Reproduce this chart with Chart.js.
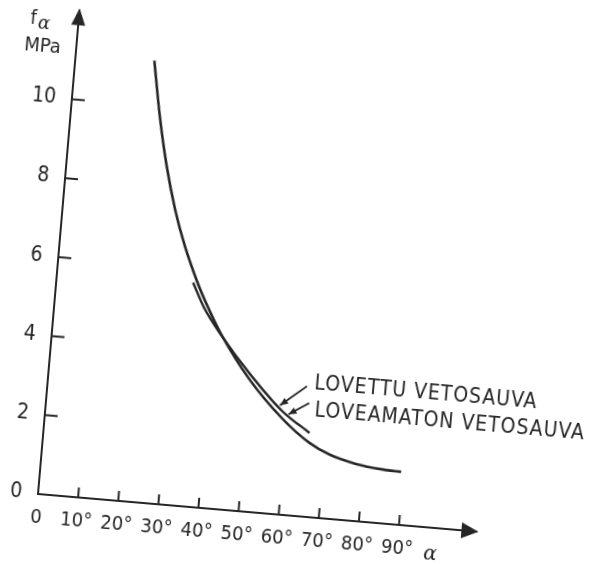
<!DOCTYPE html>
<html>
<head>
<meta charset="utf-8">
<script src="https://cdn.jsdelivr.net/npm/chart.js@4.4.0/dist/chart.umd.min.js"></script>
<style>
  html, body { margin: 0; padding: 0; background: #fff; overflow: hidden; width: 590px; height: 564px; }
  #wrap { position: absolute; left: -40px; top: -20px; width: 680px; height: 600px;
          transform: rotate(4.9deg); transform-origin: 78px 514px; }
</style>
</head>
<body>
<div id="wrap"><canvas id="myChart" width="680" height="600"></canvas></div>
<script>
// alpha in degrees, f_alpha in MPa
const mainAlpha = [19.6, 22.1, 24.9, 27.9, 31.1, 35.2, 37.9, 41.9, 49.8, 58.9, 66.1, 71.3, 78.1, 84.8, 89.4];
const mainF     = [11.15, 9.78, 8.52, 7.45, 6.55, 5.62, 5.10, 4.42, 3.35, 2.42, 1.87, 1.62, 1.44, 1.36, 1.34];
const notchAlpha = [33.9, 37.1, 41.9, 49.7, 58.7, 65.9];
const notchF     = [5.65, 5.05, 4.40, 3.50, 2.61, 2.12];

const xTickValues = [0, 10, 20, 30, 40, 50, 60, 70, 80, 90];
const xTickLabels = ['0', '10°', '20°', '30°', '40°', '50°', '60°', '70°', '80°', '90°'];
const yTickValues = [0, 2, 4, 6, 8, 10];
const yTickLabels = ['0', '2', '4', '6', '8', '10'];

const curveNames = ['LOVETTU VETOSAUVA', 'LOVEAMATON VETOSAUVA'];

const FONT = '"Liberation Sans Narrow", "DejaVu Sans Condensed", "DejaVu Sans", sans-serif';
const INK = '#262626';

function arrow(ctx, x1, y1, x2, y2, head, w) {
  const ang = Math.atan2(y2 - y1, x2 - x1);
  ctx.beginPath();
  ctx.moveTo(x1, y1);
  ctx.lineTo(x2, y2);
  ctx.lineWidth = 1.8;
  ctx.stroke();
  ctx.beginPath();
  ctx.moveTo(x2, y2);
  ctx.lineTo(x2 - head * Math.cos(ang) + w * Math.sin(ang), y2 - head * Math.sin(ang) - w * Math.cos(ang));
  ctx.lineTo(x2 - head * Math.cos(ang) - w * Math.sin(ang), y2 - head * Math.sin(ang) + w * Math.cos(ang));
  ctx.closePath();
  ctx.fill();
}

const decor = {
  id: 'decor',
  afterDraw(chart) {
    const { ctx, chartArea: a, scales: { x, y } } = chart;
    ctx.save();
    ctx.strokeStyle = INK;
    ctx.fillStyle = INK;
    ctx.lineWidth = 2;
    // inward tick marks
    xTickValues.slice(1).forEach(v => {
      const px = x.getPixelForValue(v);
      ctx.beginPath(); ctx.moveTo(px, a.bottom); ctx.lineTo(px, a.bottom - 10); ctx.stroke();
    });
    yTickValues.slice(1).forEach(v => {
      const py = y.getPixelForValue(v);
      ctx.beginPath(); ctx.moveTo(a.left, py); ctx.lineTo(a.left + 13, py); ctx.stroke();
    });
    // axis arrow heads
    ctx.beginPath();
    ctx.moveTo(a.left, a.top - 2);
    ctx.lineTo(a.left - 7, a.top + 15);
    ctx.lineTo(a.left + 7, a.top + 15);
    ctx.closePath(); ctx.fill();
    ctx.beginPath();
    ctx.moveTo(a.right + 2, a.bottom);
    ctx.lineTo(a.right - 15, a.bottom - 8);
    ctx.lineTo(a.right - 15, a.bottom + 8);
    ctx.closePath(); ctx.fill();

    // axis titles
    ctx.textAlign = 'center';
    ctx.textBaseline = 'middle';
    ctx.font = '20px ' + FONT;
    ctx.fillText('MPa', x.getPixelForValue(-8.4), y.getPixelForValue(11.27));
    const fx = x.getPixelForValue(-11.2), fy = y.getPixelForValue(11.95);
    ctx.fillText('f', fx, fy);
    ctx.font = 'italic 18px "DejaVu Serif", serif';
    ctx.fillText('α', fx + 11, fy + 5);
    ctx.font = 'italic 20px "DejaVu Serif", serif';
    ctx.fillText('α', x.getPixelForValue(98.3), y.getPixelForValue(-0.68));

    // curve labels with pointers
    ctx.textAlign = 'left';
    ctx.textBaseline = 'alphabetic';
    ctx.font = '21px ' + FONT;
    ctx.letterSpacing = '1px';
    ctx.fillText(curveNames[0], x.getPixelForValue(66.1), y.getPixelForValue(3.23));
    ctx.fillText(curveNames[1], x.getPixelForValue(66.7), y.getPixelForValue(2.55));
    arrow(ctx, x.getPixelForValue(64.3), y.getPixelForValue(3.29),
               x.getPixelForValue(58.0), y.getPixelForValue(2.75), 8, 3.5);
    arrow(ctx, x.getPixelForValue(65.2), y.getPixelForValue(2.87),
               x.getPixelForValue(60.3), y.getPixelForValue(2.54), 8, 3.5);
    ctx.restore();
  }
};

const ctx = document.getElementById('myChart');
new Chart(ctx, {
  type: 'line',
  data: {
    datasets: [{
      label: curveNames[1],
      data: mainAlpha.map((a, i) => ({ x: a, y: mainF[i] })),
      borderColor: INK,
      borderWidth: 2.6,
      pointRadius: 0,
      cubicInterpolationMode: 'monotone'
    }, {
      label: curveNames[0],
      data: notchAlpha.map((a, i) => ({ x: a, y: notchF[i] })),
      borderColor: INK,
      borderWidth: 2.4,
      pointRadius: 0,
      cubicInterpolationMode: 'monotone'
    }]
  },
  options: {
    responsive: false,
    animation: false,
    layout: { padding: { top: 28, right: 162, bottom: 0, left: 40 } },
    plugins: { legend: { display: false }, tooltip: { enabled: false } },
    scales: {
      x: {
        type: 'linear',
        min: 0,
        max: 109.3,
        afterBuildTicks: s => { s.ticks = xTickValues.map(v => ({ value: v })); },
        afterFit: s => { s.height = 86; },
        border: { display: true, color: INK, width: 2 },
        grid: { display: false, drawTicks: false },
        ticks: {
          autoSkip: false,
          maxRotation: 0,
          padding: 12,
          color: INK,
          font: { family: FONT, size: 20 },
          callback: (v, i) => xTickLabels[i]
        }
      },
      y: {
        type: 'linear',
        min: 0,
        max: 12.25,
        afterBuildTicks: s => { s.ticks = yTickValues.map(v => ({ value: v })); },
        afterFit: s => { s.width = 38; },
        border: { display: true, color: INK, width: 2 },
        grid: { display: false, drawTicks: false },
        ticks: {
          autoSkip: false,
          padding: 16,
          color: INK,
          font: { family: FONT, size: 21 },
          callback: (v, i) => yTickLabels[i]
        }
      }
    }
  },
  plugins: [decor]
});
</script>
</body>
</html>
